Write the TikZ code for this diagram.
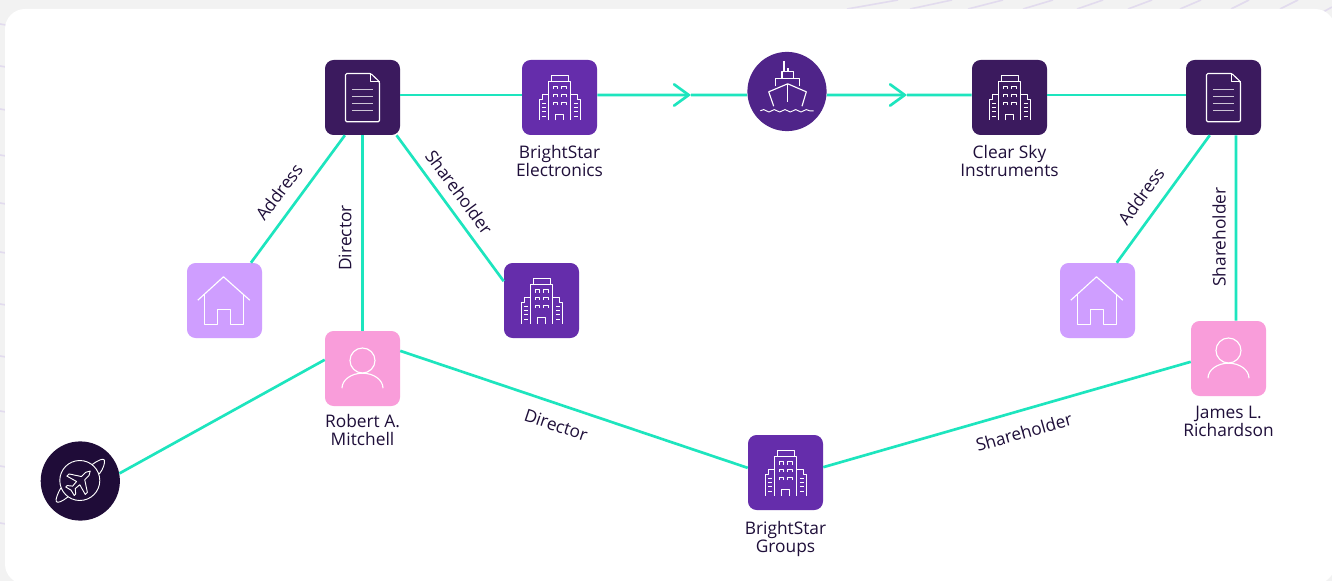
\documentclass[tikz,border=0pt]{standalone}
\usepackage{fontspec}
\setmainfont{Open Sans}
\usetikzlibrary{positioning,arrows.meta,decorations.pathmorphing}

\definecolor{inkdark}{HTML}{1F0F3A}
\definecolor{docdark}{HTML}{3B1A5E}
\definecolor{bldpurple}{HTML}{652DAB}
\definecolor{shippurple}{HTML}{4F2489}
\definecolor{planedark}{HTML}{1F0C38}
\definecolor{houselilac}{HTML}{CF9EFF}
\definecolor{personpink}{HTML}{F99DDA}
\definecolor{linkteal}{HTML}{1DE5BE}
\definecolor{pagegray}{HTML}{F2F2F2}
\definecolor{streak}{HTML}{E2DBEE}

\tikzset{
  tile/.style={rectangle, rounded corners=6.5pt, minimum size=56.25pt, inner sep=0pt},
  disc/.style={circle, minimum size=59.4pt, inner sep=0pt},
  link/.style={draw=linkteal, line width=2pt},
  chevron/.style={link, -{Straight Barb[length=11pt, width=16pt, line cap=round]}},
  nametext/.style={align=center, text=inkdark, font=\fontsize{13}{13.6}\selectfont, inner sep=0pt},
  edgetext/.style={text=inkdark, font=\fontsize{13}{13.6}\selectfont, inner sep=0pt},
  icon/.style={draw=white, line width=0.85pt, line join=round},
  docicon/.pic={
    \draw[icon, rounded corners=1pt] (-17,-24) -- (8.3,-24) -- (17,-15.7) -- (17,24.3) -- (-17,24.3) -- cycle;
    \draw[icon] (8.3,-24) -- (8.3,-15.7) -- (17,-15.7);
    \foreach \y in {-8.3,-1.3,5.7,12.7}
      \draw[icon, white!75!docdark] (-10.7,\y) -- (10.3,\y);
  },
  bldicon/.pic={
    \draw[icon] (-8.3,-16.3) -- (-8.3,-22.3) -- (8.7,-22.3) -- (8.7,-16.3);
    \draw[icon] (-11,23) -- (-11,-16.3) -- (11.3,-16.3) -- (11.3,23);
    \draw[icon] (-11,-3.3) -- (-17.3,-3.3) -- (-17.3,2) -- (-20.3,2) -- (-20.3,23);
    \draw[icon] (11.3,-3.3) -- (17.6,-3.3) -- (17.6,2) -- (20.6,2) -- (20.6,23);
    \draw[icon, line width=0.6pt] (-4,23) -- (-4,16.5) -- (4.3,16.5) -- (4.3,23);
    \foreach \y in {-8,-0.3,7.7} {
      \draw[icon, line width=0.6pt] (-6.3,\y) -- (-6.3,\y-3) -- (-2.3,\y-3) -- (-2.3,\y);
      \draw[icon, line width=0.6pt] (1.7,\y) -- (1.7,\y-3) -- (6.7,\y-3) -- (6.7,\y);
    }
    \foreach \y in {6,10,14.3,18.7} {
      \draw[icon, line width=0.6pt] (-17.6,\y) -- (-14,\y);
      \draw[icon, line width=0.6pt] (14.3,\y) -- (18.3,\y);
    }
  },
  houseicon/.pic={
    \draw[icon] (-26.7,-0.3) -- (-1,-23.7) -- (25.3,-0.3);
    \draw[icon] (-20,-6.4) -- (-20,23.7) -- (-7.3,23.7) -- (-7.3,8.7) -- (6,8.7) -- (6,23.7) -- (19,23.7) -- (19,-6.4);
  },
  personicon/.pic={
    \draw[icon] (0,-8) circle[radius=12.5];
    \draw[icon] (-20.5,19.7) arc[start angle=180, end angle=360, x radius=20.5, y radius=15];
  },
  shipicon/.pic={
    \draw[icon] (-3,-30.7) -- (-3,-19.7);
    \draw[icon] (1,-23) -- (1,-19.7);
    \draw[icon] (-5,-13) -- (-5,-19.7) -- (6.7,-19.7) -- (6.7,-13);
    \draw[icon] (-11.3,-5) -- (-11.3,-13) -- (12.3,-13) -- (12.3,-5);
    \draw[icon] (-13.3,14.7) -- (-18.3,0.3) -- (0.7,-7.7) -- (19.3,0.3) -- (15,14.7);
    \draw[icon] (0.7,-7.7) -- (0.7,10.7);
    \draw[icon, line width=0.7pt, decorate, decoration={snake, amplitude=0.9pt, segment length=8pt}] (-26.7,19.3) -- (26.7,19.3);
  },
  planeicon/.pic={
    \draw[icon, line width=0.7pt] (-0.5,-0.5) circle[radius=20];
    \draw[icon, line width=0.7pt] (12,-16.5) .. controls (18,-21) and (23,-23) .. (24,-21) .. controls (25,-18.5) and (23,-12) .. (19,-7);
    \draw[icon, line width=0.7pt] (-12.5,16) .. controls (-18,20.5) and (-23,22.5) .. (-24,20.5) .. controls (-25,18.5) and (-22.5,12) .. (-19.5,7);
    \begin{scope}[rotate=-45, shift={(0,1)}]
      \draw[icon, line width=0.7pt] (0,-15) -- (2.3,-11) -- (2.3,-5) -- (13,2) -- (13,5) -- (2.3,2) -- (1.8,8) -- (6,11.5) -- (6,13.5) -- (0,12)
        -- (-6,13.5) -- (-6,11.5) -- (-1.8,8) -- (-2.3,2) -- (-13,5) -- (-13,2) -- (-2.3,-5) -- (-2.3,-11) -- cycle;
    \end{scope}
  },
}

\begin{document}
\begin{tikzpicture}[x=0.75pt, y=-0.75pt]
    \useasboundingbox (0,0) rectangle (1332,581);

    % page behind the card
    \fill[pagegray] (0,0) rectangle (1332,581);
    \foreach \a/\b in {847/898,910/952,968/1003,1023/1053,1077/1103,1128/1152,1180/1201,1231/1249,1280/1298}
        \draw[streak, line width=1.2pt] (\a,9) -- (\b,0);
    \draw[streak, line width=1.2pt] (1323,12) -- (1332,7);
    \foreach \y in {24,66,109,155,203,252,304,356,411,466,523}
        \draw[streak, line width=1.2pt] (0,\y) -- (6,\y+1);
    \fill[white, rounded corners=15pt] (5,9) rectangle (1335,584);

    % tiles
    \node[tile, fill=docdark] (doca) at (362.5,97.5) {};
    \node[tile, fill=bldpurple] (bright) at (559.5,97.5) {};
    \node[disc, fill=shippurple] (ship) at (787,91.5) {};
    \node[tile, fill=docdark] (clear) at (1009.5,97.5) {};
    \node[tile, fill=docdark] (docb) at (1223.5,97.5) {};
    \node[tile, fill=houselilac] (housea) at (224.5,300.5) {};
    \node[tile, fill=bldpurple] (bldg) at (541.5,300.5) {};
    \node[tile, fill=houselilac] (houseb) at (1097.5,300.5) {};
    \node[tile, fill=personpink] (robert) at (362.5,368.5) {};
    \node[tile, fill=personpink] (james) at (1228.5,358.5) {};
    \node[tile, fill=bldpurple] (groups) at (785.5,472.5) {};
    \node[disc, fill=planedark] (plane) at (80.3,481) {};

    \pic at (doca) {docicon};
    \pic at (docb) {docicon};
    \pic at (bright) {bldicon};
    \pic at (clear) {bldicon};
    \pic at (bldg) {bldicon};
    \pic at (groups) {bldicon};
    \pic at (housea) {houseicon};
    \pic at (houseb) {houseicon};
    \pic at (robert) {personicon};
    \pic at (james) {personicon};
    \pic at (ship) {shipicon};
    \pic at (plane) {planeicon};

    % names under the tiles
    \node[nametext, below=7.5pt of bright] (brighttext) {BrightStar\\Electronics};
    \node[nametext, below=7.5pt of clear] (cleartext) {Clear Sky\\Instruments};
    \node[nametext, below=5.5pt of robert] (roberttext) {Robert A.\\Mitchell};
    \node[nametext, below=7pt of james] (jamestext) {James L.\\Richardson};
    \node[nametext, below=8pt of groups] (groupstext) {BrightStar\\Groups};

    % connectors
    \coordinate (tipa) at (691,95);
    \coordinate (tipb) at (907,95);
    \draw[link] ([yshift=1.9pt]doca.east) -- ([yshift=1.9pt]bright.west);
    \draw[chevron] ([yshift=1.9pt]bright.east) -- (tipa);
    \draw[link] (tipa) -- ([yshift=-2.6pt]ship.west);
    \draw[chevron] ([yshift=-2.6pt]ship.east) -- (tipb);
    \draw[link] (tipb) -- ([yshift=1.9pt]clear.west);
    \draw[link] ([yshift=1.9pt]clear.east) -- ([yshift=1.9pt]docb.west);
    \draw[link] (doca.245.6) -- (housea.55.8);
    \draw[link] (doca.south) -- (robert.north);
    \draw[link] (doca.-48) -- (bldg.153.7);
    \draw[link] (robert.167.2) -- (plane.11);
    \draw[link] (robert.25) -- (groups.173);
    \draw[link] (groups.8.3) -- (james.185.3);
    \draw[link] (docb.250.2) -- (houseb.63.7);
    \draw[link] ([xshift=9.4pt]docb.south) -- ([xshift=5.6pt]james.north);

    % labels on the connectors
    \node[edgetext, rotate=53] (addra) at (279,192) {Address};
    \node[edgetext, rotate=90] (dira) at (345,238) {Director};
    \node[edgetext, rotate=-53.5] (shara) at (459,192) {Shareholder};
    \node[edgetext, rotate=-18.5] (dirb) at (556,425) {Director};
    \node[edgetext, rotate=15.8] (sharb) at (1024,432) {Shareholder};
    \node[edgetext, rotate=54] (addrb) at (1141,196) {Address};
    \node[edgetext, rotate=90] (sharc) at (1219,237) {Shareholder};
\end{tikzpicture}
\end{document}
